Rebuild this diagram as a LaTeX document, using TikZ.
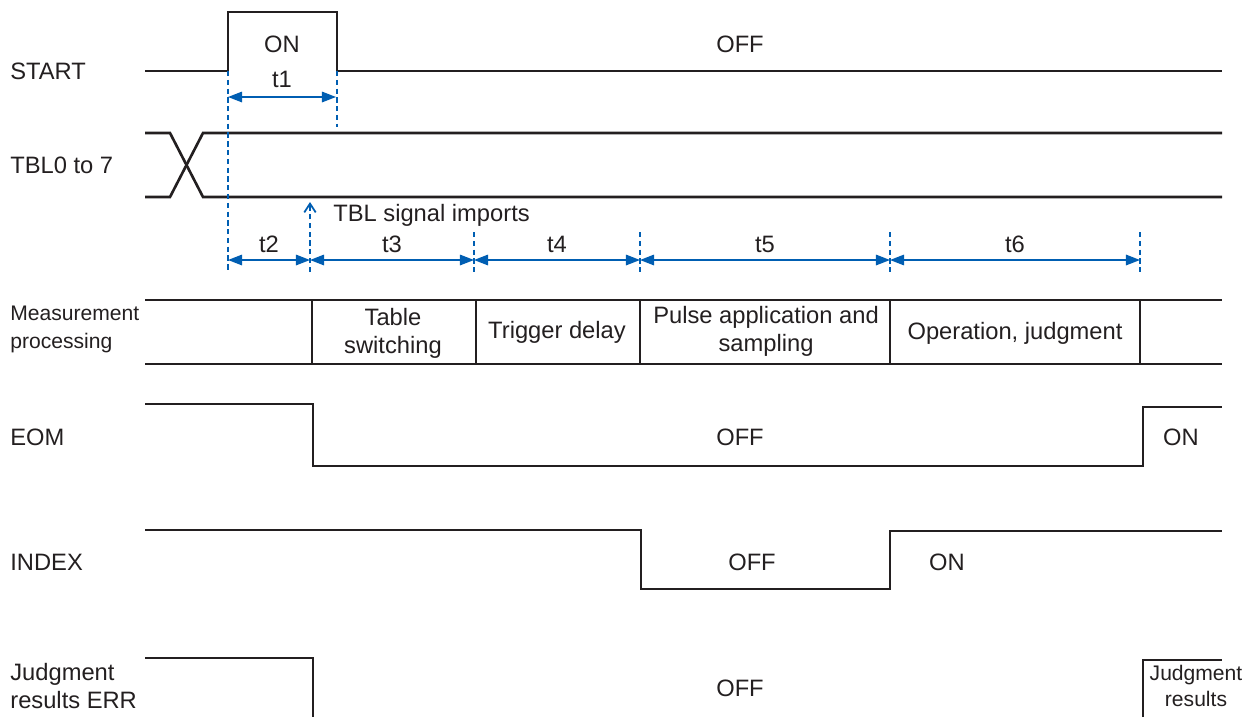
\documentclass[tikz,border=0pt]{standalone}
\usepackage{fontspec}
\setmainfont{Liberation Sans}
\usetikzlibrary{arrows.meta,positioning}
\definecolor{dimblue}{RGB}{0,94,178}
\definecolor{sigk}{RGB}{35,31,32}

\begin{document}
\begin{tikzpicture}[x=0.02cm,y=-0.02cm,
  sig/.style={line width=1.5pt,sigk},
  guide/.style={dimblue,line width=1pt,dash pattern=on 3pt off 2pt},
  dimln/.style={dimblue,line width=0.8pt,{Triangle[length=8pt,width=6pt]}-{Triangle[length=8pt,width=6pt]}},
  lbl/.style={font=\fontsize{13.5}{16}\selectfont,text=sigk,inner sep=0pt,align=center},
  sml/.style={font=\fontsize{12}{16}\selectfont,text=sigk,inner sep=0pt,align=left}]
  \useasboundingbox (0,0) rectangle (1260,717);
  % signal names
  \node[lbl,anchor=west] (nstart) at (10,71) {START};
  \node[lbl,anchor=west] (ntbl) at (10,165) {TBL0 to 7};
  \node[sml,anchor=west] (nmeas) at (10,329) {Measurement\\processing};
  \node[lbl,anchor=west] (neom) at (10,437) {EOM};
  \node[lbl,anchor=west] (nindex) at (10,562) {INDEX};
  \node[lbl,anchor=west,align=left] (nerr) at (10,686) {Judgment\\results ERR};
  % waveforms
  \draw[sig] (145,71) -- (228,71) -- (228,12) -- (337,12) -- (337,71) -- (1222,71);
  \draw[sig] (145,133) -- (170,133) -- (203,197) -- (1222,197);
  \draw[sig] (145,197) -- (170,197) -- (203,133) -- (1222,133);
  \draw[sig] (145,300) -- (1222,300);
  \draw[sig] (145,364) -- (1222,364);
  \foreach \x in {312,476,640,890,1140}
    \draw[sig] (\x,300) -- (\x,364);
  \draw[sig] (145,404) -- (313,404) -- (313,466) -- (1143,466) -- (1143,407) -- (1222,407);
  \draw[sig] (145,530) -- (641,530) -- (641,589) -- (890,589) -- (890,531) -- (1222,531);
  \draw[sig] (145,658) -- (313,658) -- (313,717);
  \draw[sig] (1143,717) -- (1143,660) -- (1222,660);
  % levels
  \node[lbl] (sonn) at (282,44) {ON};
  \node[lbl] (soff) at (740,44) {OFF};
  \node[lbl] (eoff) at (740,437) {OFF};
  \node[lbl] (eon) at (1181,437) {ON};
  \node[lbl] (ioff) at (752,562) {OFF};
  \node[lbl] (ion) at (947,562) {ON};
  \node[lbl] (joff) at (740,688) {OFF};
  \node[lbl,font=\fontsize{12}{14.5}\selectfont] (jres) at (1196,686) {Judgment\\results};
  % phases
  \node[lbl] (ptab) at (393,333) {Table\\switching};
  \node[lbl] (ptrg) at (557,332) {Trigger delay};
  \node[lbl] (ppls) at (766,331) {Pulse application and\\sampling};
  \node[lbl] (popr) at (1015,333) {Operation, judgment};
  % guides
  \draw[guide] (228,71) -- (228,272);
  \draw[guide] (337,71) -- (337,127);
  \foreach \x in {474,640,890,1140}
    \draw[guide] (\x,232) -- (\x,272);
  \coordinate (imp0) at (310,272);
  \coordinate (imp1) at (310,202);
  \draw[guide,-{Straight Barb[length=5pt,width=6.5pt]}] (imp0) -- (imp1);
  \node[lbl,anchor=west] (nimp) at (333,215) {TBL signal imports};
  % intervals
  \coordinate (s0) at (228,97);
  \coordinate (s1) at (336,97);
  \draw[dimln] (s0) -- node[lbl,above=5pt] {t1} (s1);
  \foreach \n/\x in {0/228,1/310,2/474,3/640,4/890,5/1140}
    \coordinate (m\n) at (\x,260);
  \foreach \a/\b/\t in {0/1/t2,1/2/t3,2/3/t4,3/4/t5,4/5/t6}
    \draw[dimln] (m\a) -- node[lbl,above=4pt] {\t} (m\b);
\end{tikzpicture}
\end{document}
